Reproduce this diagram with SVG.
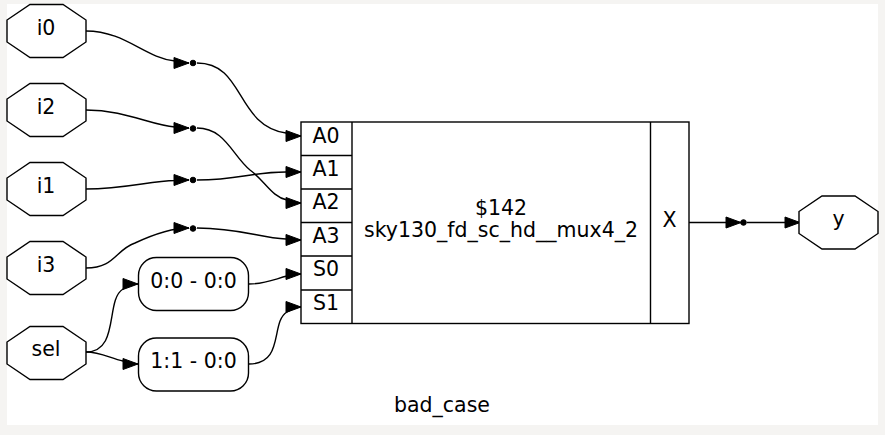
<svg xmlns="http://www.w3.org/2000/svg" width="885" height="435" viewBox="0 0 885 435">
<style>
text{font-family:"DejaVu Sans",sans-serif;font-size:20.5px;fill:#000;text-anchor:middle}
.s{fill:none;stroke:#000;stroke-width:1.4}
.n{fill:#fff;stroke:#000;stroke-width:1.4}
.e{fill:none;stroke:#000;stroke-width:1.4;marker-end:url(#a)}
.d{fill:#000;stroke:#000}
</style>
<defs>
<marker id="a" markerUnits="userSpaceOnUse" markerWidth="20" markerHeight="18" refX="16" refY="9" orient="auto"><path d="M1,3.500L16,9L1,14.500Z" fill="#000" stroke="#000" stroke-width="1"/></marker>
<polygon id="o" points="23,0 56,0 79,15.5 79,37.5 56,53 23,53 0,37.5 0,15.5"/>
</defs>
<rect width="885" height="435" fill="#f5f4f2"/>
<rect x="7" y="4" width="871" height="421" fill="#fff"/>
<g id="connectors">
<path class="e" d="M86,31C125,31 145,58 175,61C180,62 185,63 189,63"/>
<path class="e" d="M197,63C245,63 235,125 286,133C291,135 296,136 301,136"/>
<path class="e" d="M86,110C125,110 150,125 175,127C180,128 185,128 189,128"/>
<path class="e" d="M197,128C225,128 232,155 250,170C265,181 272,197 287,200C292,202 297,203 301,203"/>
<path class="e" d="M86,189C125,189 150,181 175,180.500C180,180 185,180 189,180"/>
<path class="e" d="M197,180C240,180 250,172 286,172C291,172 296,172 301,172"/>
<path class="e" d="M86,268C115,268 115,250 135,243C150,236 170,228 189,228"/>
<path class="e" d="M197,228C240,228 260,238 286,239C291,240 296,240 301,240"/>
<path class="e" d="M86,352C120,352 105,300 123,289C128,286 133,284 138,284"/>
<path class="e" d="M86,352C100,352 110,358 123,361C128,363 133,364 138,364"/>
<path class="e" d="M249,284C265,284 275,279 287,276C292,275 297,274 301,274"/>
<path class="e" d="M249,364C285,364 270,322 287,312C292,309 297,307 301,307"/>
<path class="e" d="M689,222.500L741,222.500"/>
<path class="e" d="M747,222.500L800,222.500"/>
</g>
<g id="dot_i0"><circle class="d" cx="193" cy="63" r="2.800"/></g>
<g id="dot_i2"><circle class="d" cx="193" cy="128.500" r="2.800"/></g>
<g id="dot_i1"><circle class="d" cx="193" cy="180" r="2.800"/></g>
<g id="dot_i3"><circle class="d" cx="193" cy="228.500" r="2.800"/></g>
<g id="dot_y"><circle class="d" cx="743.500" cy="222.500" r="2.800"/></g>
<g id="i0"><use href="#o" x="7" y="4.500" class="n"/><text x="46" y="35">i0</text></g>
<g id="i2"><use href="#o" x="7" y="83.500" class="n"/><text x="46" y="114">i2</text></g>
<g id="i1"><use href="#o" x="7" y="162.500" class="n"/><text x="46" y="193">i1</text></g>
<g id="i3"><use href="#o" x="7" y="241.500" class="n"/><text x="46" y="272">i3</text></g>
<g id="sel"><use href="#o" x="7" y="326.500" class="n"/><text x="46" y="356">sel</text></g>
<g id="y"><use href="#o" x="799" y="196" class="n"/><text x="838.500" y="226">y</text></g>
<g id="slice0"><rect class="n" x="138.500" y="257.500" width="110" height="53" rx="18"/><text x="193.500" y="288">0:0 - 0:0</text></g>
<g id="slice1"><rect class="n" x="138.500" y="338" width="110" height="53" rx="18"/><text x="193.500" y="368">1:1 - 0:0</text></g>
<g id="cell">
<rect class="n" x="301" y="122" width="388" height="201.500"/>
<path class="s" d="M352,122V323.500M650.500,122V323.500M301,155.500H352M301,189H352M301,222.500H352M301,256H352M301,290H352"/>
<text x="326" y="143">A0</text>
<text x="326" y="176">A1</text>
<text x="326" y="209">A2</text>
<text x="326" y="243">A3</text>
<text x="326" y="276">S0</text>
<text x="326" y="310">S1</text>
<text x="501" y="215">$142</text>
<text x="501" y="237">sky130_fd_sc_hd__mux4_2</text>
<text x="669.500" y="227">X</text>
</g>
<text x="442" y="412">bad_case</text>
</svg>
